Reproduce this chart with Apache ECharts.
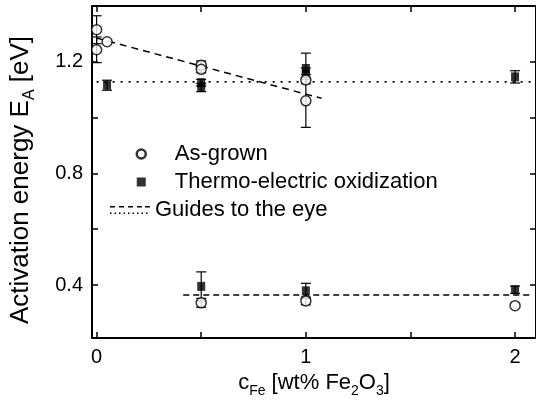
<!DOCTYPE html>
<html>
<head>
<meta charset="utf-8">
<script src="https://cdn.jsdelivr.net/npm/echarts@6/dist/echarts.min.js"></script>
<style>
  html, body { margin: 0; padding: 0; background: #fff; }
  #chart { width: 536px; height: 404px; }
</style>
</head>
<body>
<div id="chart"></div>
<script>
// As-grown (open circles)
var grownX   = [0, 0, 0.05, 0.5, 0.5, 1, 1, 0.5, 1, 2];
var grownY   = [1.315, 1.243, 1.272, 1.188, 1.173, 1.135, 1.06, 0.336, 0.343, 0.326];
var grownErr = [0.05, 0.046, 0, 0.015, 0.012, 0, 0.095, 0.016, 0.014, 0];

// Thermo-electric oxidization (filled squares)
var oxX   = [0.05, 0.5, 0.5, 1, 1, 2, 0.5, 1, 2];
var oxY   = [1.116, 1.125, 1.108, 1.176, 1.158, 1.146, 0.395, 0.379, 0.383];
var oxErr = [0.018, 0.012, 0.015, 0.055, 0.02, 0.022, 0.052, 0.027, 0.013];

// guides to the eye
var dashTop    = [[0, 1.285], [1.075, 1.069]];
var dashBottom = [[0.414, 0.364], [2.077, 0.364]];
var dotted     = [[0, 1.128], [2.1, 1.128]];

// ticks
var xTicks  = [0, 0.5, 1, 1.5, 2];
var xLabels = [0, 1, 2];
var yTicks  = [0.4, 0.6, 0.8, 1.0, 1.2];
var yLabels = [0.4, 0.8, 1.2];

var FONT = 'Liberation Sans, Arial, sans-serif';

function points(xs, ys) {
    return xs.map(function (x, i) { return [x, ys[i]]; });
}
function bars(xs, ys, es) {
    var out = [];
    xs.forEach(function (x, i) {
        if (es[i] > 0) out.push([x, ys[i] - es[i], ys[i] + es[i]]);
    });
    return out;
}

// vertical error bar with caps
function renderErr(params, api) {
    var x = api.value(0);
    var lo = api.coord([x, api.value(1)]);
    var hi = api.coord([x, api.value(2)]);
    var w = 5;
    var st = { stroke: '#000', lineWidth: 1.2 };
    return {
        type: 'group',
        children: [
            { type: 'line', shape: { x1: lo[0], y1: lo[1], x2: hi[0], y2: hi[1] }, style: st },
            { type: 'line', shape: { x1: lo[0] - w, y1: lo[1], x2: lo[0] + w, y2: lo[1] }, style: st },
            { type: 'line', shape: { x1: hi[0] - w, y1: hi[1], x2: hi[0] + w, y2: hi[1] }, style: st }
        ]
    };
}

var guideIcon = 'path://M0,0H5V1.5H0Z M9,0H14V1.5H9Z M18,0H23V1.5H18Z M27,0H32V1.5H27Z M35,0H40V1.5H35Z ' +
    'M0,6.5H1.5V8H0Z M4.5,6.5H6V8H4.5Z M9,6.5H10.5V8H9Z M13.5,6.5H15V8H13.5Z M18,6.5H19.5V8H18Z ' +
    'M22.5,6.5H24V8H22.5Z M27,6.5H28.5V8H27Z M31.5,6.5H33V8H31.5Z M36,6.5H37.5V8H36Z';

var richX = {
    a: { fontSize: 22, lineHeight: 22, verticalAlign: 'top', fontFamily: FONT, color: '#000' },
    s: { fontSize: 14, lineHeight: 14, verticalAlign: 'top', padding: [12, 0, 0, 0], fontFamily: FONT, color: '#000' }
};
var richY = {
    a: { fontSize: 26, lineHeight: 26, verticalAlign: 'top', fontFamily: FONT, color: '#000' },
    s: { fontSize: 16, lineHeight: 16, verticalAlign: 'top', padding: [14, 0, 0, 0], fontFamily: FONT, color: '#000' }
};

var axisLine = { show: true, onZero: false, lineStyle: { color: '#000', width: 2 } };

var chart = echarts.init(document.getElementById('chart'));

var option = {
    animation: false,
    backgroundColor: '#fff',
    grid: { left: 91, right: 0, top: 6, bottom: 66, containLabel: false },
    xAxis: [
        {
            type: 'value', min: -0.022, max: 2.1, position: 'bottom',
            axisLine: axisLine,
            axisTick: { inside: true, length: 6, customValues: xTicks, lineStyle: { color: '#000', width: 1.5 } },
            axisLabel: { customValues: xLabels, margin: 9, fontSize: 20, fontFamily: FONT, color: '#000' },
            splitLine: { show: false },
            name: '{a|c}{s|Fe}{a| [wt% Fe}{s|2}{a|O}{s|3}{a|]}',
            nameLocation: 'middle', nameGap: 34,
            nameTextStyle: { rich: richX }
        },
        {
            type: 'value', min: -0.022, max: 2.1, position: 'top',
            axisLine: axisLine,
            axisTick: { inside: true, length: 6, customValues: xTicks, lineStyle: { color: '#000', width: 1.5 } },
            axisLabel: { show: false },
            splitLine: { show: false }
        }
    ],
    yAxis: [
        {
            type: 'value', min: 0.21, max: 1.4, position: 'left',
            axisLine: axisLine,
            axisTick: { inside: true, length: 6, customValues: yTicks, lineStyle: { color: '#000', width: 1.5 } },
            axisLabel: {
                customValues: yLabels, margin: 9, fontSize: 20, fontFamily: FONT, color: '#000',
                formatter: function (v) { return v.toFixed(1); }
            },
            splitLine: { show: false },
            name: '{a|Activation energy E}{s|A}{a| [eV]}',
            nameLocation: 'middle', nameRotate: 90, nameGap: 58,
            nameTextStyle: { rich: richY, padding: [0, 16, 0, 0] }
        },
        {
            type: 'value', min: 0.21, max: 1.4, position: 'right',
            axisLine: axisLine,
            axisTick: { inside: true, length: 6, customValues: yTicks, lineStyle: { color: '#000', width: 1.5 } },
            axisLabel: { show: false },
            splitLine: { show: false }
        }
    ],
    legend: [
        {
            left: 135.5, top: 143, orient: 'vertical', padding: 0,
            itemWidth: 9, itemHeight: 9, itemGap: 6, selectedMode: false,
            textStyle: { fontSize: 22, lineHeight: 22, fontFamily: FONT, color: '#000', padding: [0, 0, 0, 24] },
            data: [
                { name: 'As-grown', icon: 'circle', itemStyle: { color: '#fff', borderColor: '#000', borderWidth: 2.5 } },
                { name: 'Thermo-electric oxidization', icon: 'rect', itemStyle: { color: '#000', borderWidth: 0 } }
            ]
        },
        {
            left: 110, top: 199, orient: 'vertical', padding: 0,
            itemWidth: 40, itemHeight: 8, selectedMode: false, symbolKeepAspect: false,
            textStyle: { fontSize: 22, lineHeight: 22, fontFamily: FONT, color: '#000' },
            data: [
                { name: 'Guides to the eye', icon: guideIcon, itemStyle: { color: '#000', borderWidth: 0 } }
            ]
        }
    ],
    series: [
        {
            name: 'Guides to the eye', type: 'line', data: dashTop, showSymbol: false, silent: true,
            lineStyle: { color: '#000', width: 1.5, type: [7, 5] }, itemStyle: { color: '#000' }
        },
        {
            name: 'Guides to the eye', type: 'line', data: dashBottom, showSymbol: false, silent: true,
            lineStyle: { color: '#000', width: 1.5, type: [6, 4] }, itemStyle: { color: '#000' }
        },
        {
            name: 'Guides to the eye', type: 'line', data: dotted, showSymbol: false, silent: true,
            lineStyle: { color: '#000', width: 1.8, type: [2, 6] }, itemStyle: { color: '#000' }
        },
        {
            type: 'custom', renderItem: renderErr, data: bars(oxX, oxY, oxErr),
            encode: { x: 0, y: [1, 2] }, silent: true, z: 3
        },
        {
            type: 'custom', renderItem: renderErr, data: bars(grownX, grownY, grownErr),
            encode: { x: 0, y: [1, 2] }, silent: true, z: 3
        },
        {
            name: 'Thermo-electric oxidization', type: 'scatter', data: points(oxX, oxY),
            symbol: 'rect', symbolSize: [8, 9], itemStyle: { color: '#000' }, z: 4
        },
        {
            name: 'As-grown', type: 'scatter', data: points(grownX, grownY),
            symbol: 'circle', symbolSize: 10,
            itemStyle: { color: '#fff', borderColor: '#000', borderWidth: 1.5 }, z: 5
        }
    ]
};

chart.setOption(option);
</script>
</body>
</html>
